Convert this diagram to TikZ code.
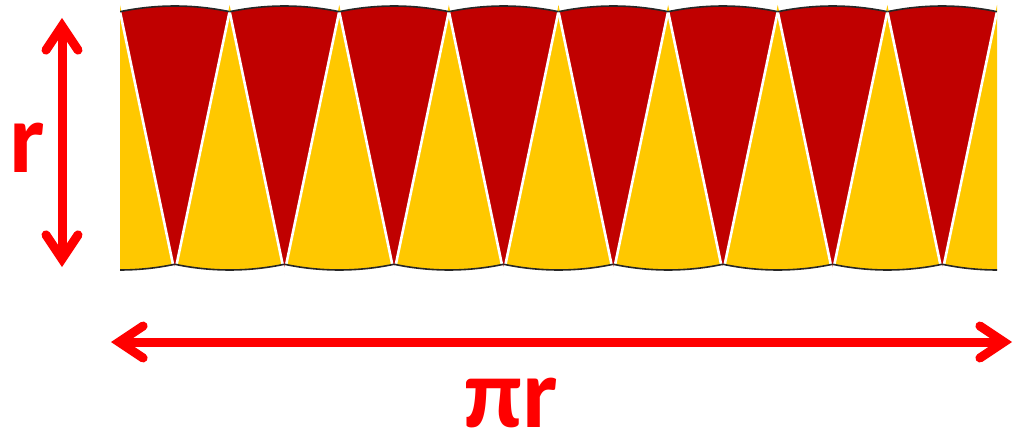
\documentclass[tikz,border=0pt]{standalone}
\usepackage{fontspec}
\setmainfont{Carlito}
\usetikzlibrary{arrows.meta}
\definecolor{sectred}{RGB}{192,0,0}
\definecolor{sectyellow}{RGB}{255,200,0}
\definecolor{dimred}{RGB}{255,0,0}
\tikzset{
  redsector/.style={fill=sectred},
  yellowsector/.style={fill=sectyellow},
  edgeline/.style={draw=white, line width=2.6pt},
  arcline/.style={draw=black!85, line width=1.6pt},
  dimarrow/.style={draw=dimred, line width=9pt,
    {Straight Barb[length=24pt,width=32pt,line cap=round,line join=miter]}-{Straight Barb[length=24pt,width=32pt,line cap=round,line join=miter]}},
  dimlabel/.style={text=dimred, font=\fontsize{100}{100}\selectfont\bfseries, inner sep=0pt}
}
\begin{document}
\begin{tikzpicture}[x=1pt,y=1pt]
\useasboundingbox (0,0) rectangle (1018,432);
\begin{scope}
\clip (120,0) rectangle (997,432);
% yellow sectors (apex up): apex y=427, radius 265
\foreach \j in {0,...,8}{
  \pgfmathsetmacro{\X}{120+109.625*\j}
  \fill[yellowsector] (\X,427) -- ++(258.08:265) arc[start angle=258.08,end angle=281.92,radius=265] -- cycle;
}
% red sectors (apex down): apex y=159, radius 267
\foreach \k in {0,...,7}{
  \pgfmathsetmacro{\X}{174.8+109.625*\k}
  \fill[redsector] (\X,159) -- ++(101.84:267) arc[start angle=101.84,end angle=78.16,radius=267] -- cycle;
}
% white separators
\foreach \k in {0,...,7}{
  \pgfmathsetmacro{\X}{174.8+109.625*\k}
  \draw[edgeline] (\X,159) -- ++(101.84:267);
  \draw[edgeline] (\X,159) -- ++(78.16:267);
}
% arcs
\foreach \j in {0,...,8}{
  \pgfmathsetmacro{\X}{120+109.625*\j}
  \draw[arcline] (\X,427) ++(258.08:265) arc[start angle=258.08,end angle=281.92,radius=265];
}
\foreach \k in {0,...,7}{
  \pgfmathsetmacro{\X}{174.8+109.625*\k}
  \draw[arcline] (\X,159) ++(101.84:267) arc[start angle=101.84,end angle=78.16,radius=267];
}
\end{scope}
% dimension arrows
\coordinate (vtop) at (62,414);
\coordinate (vbot) at (62,165);
\coordinate (hleft) at (111,90);
\coordinate (hright) at (1012,90);
\draw[dimarrow] (vbot) -- (vtop);
\draw[dimarrow] (hleft) -- (hright);
\node[dimlabel] (rlabel) at (27,284) {r};
\node[dimlabel] (pirlabel) at (511,29) {πr};
\end{tikzpicture}
\end{document}
